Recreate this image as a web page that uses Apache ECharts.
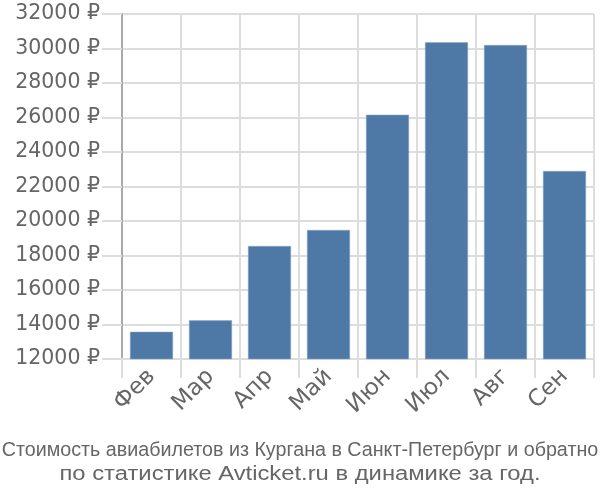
<!DOCTYPE html>
<html>
<head>
<meta charset="utf-8">
<script src="https://cdn.jsdelivr.net/npm/echarts@6/dist/echarts.min.js"></script>
<style>html,body{margin:0;padding:0;background:#fff}#c{width:600px;height:500px}</style>
</head>
<body>
<div id="c"></div>
<script>
const categories = ['Фев', 'Мар', 'Апр', 'Май', 'Июн', 'Июл', 'Авг', 'Сен'];
const prices = [13580, 14240, 18550, 19480, 26160, 30360, 30200, 22900];
const yMin = 12000, yMax = 32000, yStep = 2000;
const titleLine1 = 'Стоимость авиабилетов из Кургана в Санкт-Петербург и обратно';
const titleLine2 = 'по статистике Avticket.ru в динамике за год.';

const FONT = 'DejaVu Sans, sans-serif';
const chart = echarts.init(document.getElementById('c'), null, {renderer: 'canvas'});
chart.setOption({
  animation: false,
  backgroundColor: '#fff',
  grid: {left: 122, right: 6, top: 14, bottom: 141, containLabel: false},
  title: [
    {text: titleLine1, left: 'center', top: 436,
     textStyle: {fontFamily: 'Liberation Sans Narrow, Arial Narrow, sans-serif', fontSize: 19.7, fontWeight: 'normal', color: '#666'}}
  ],
  graphic: [{
    type: 'text', x: 300, y: 465, scaleX: 1.22,
    style: {text: titleLine2, font: '19.5px "Liberation Sans", Arial, sans-serif', fill: '#666', textAlign: 'center', textVerticalAlign: 'top'}
  }],
  xAxis: {
    type: 'category',
    data: categories,
    boundaryGap: true,
    axisLine: {show: true, lineStyle: {color: '#ddd', width: 2}},
    axisTick: {show: true, length: 19, alignWithLabel: false, lineStyle: {color: '#ddd', width: 2}},
    splitLine: {show: true, lineStyle: {color: '#ddd', width: 2}},
    axisLabel: {rotate: 45, margin: 14, fontFamily: FONT, fontSize: 23, color: '#666'}
  },
  yAxis: {
    type: 'value',
    min: yMin, max: yMax, interval: yStep,
    axisLine: {show: true, lineStyle: {color: '#aaa', width: 2}},
    axisTick: {show: true, length: 20, lineStyle: {color: '#ddd', width: 2}},
    splitLine: {show: true, lineStyle: {color: '#ddd', width: 2}},
    axisLabel: {margin: 22, fontFamily: FONT, fontSize: 20.5, color: '#666',
      formatter: v => v + ' ₽'}
  },
  series: [{
    type: 'bar',
    data: prices,
    barWidth: 43,
    itemStyle: {color: '#4e79a7', borderColor: '#8fa9c9', borderWidth: 0.5}
  }]
});
</script>
</body>
</html>
